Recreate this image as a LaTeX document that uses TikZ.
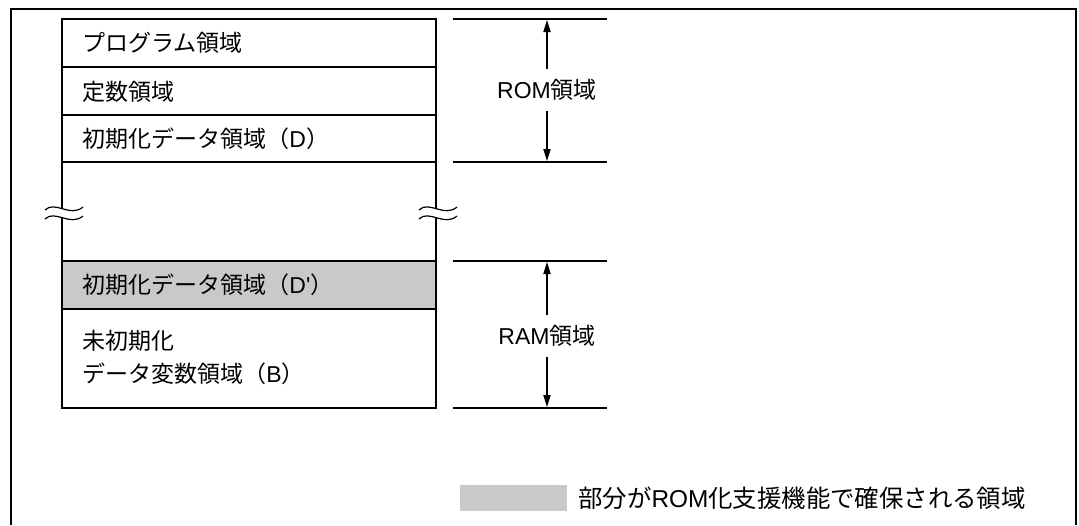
\documentclass[tikz,border=0pt]{standalone}
\usepackage{fontspec}
\setmainfont{Liberation Sans}[Ligatures=TeXOff]
\newfontfamily\jp{Noto Sans CJK JP}
\usetikzlibrary{arrows.meta}
\definecolor{romgray}{gray}{0.79}

\begin{document}
\begin{tikzpicture}[x=0.5pt, y=-0.5pt,
  area/.style={anchor=west, inner sep=0pt, align=left, font=\fontsize{11.5}{16.5}\selectfont},
  dimtext/.style={inner sep=5pt, font=\fontsize{11.5}{14}\selectfont},
  boxline/.style={line width=1.3pt},
  thinline/.style={line width=0.6pt},
  dimarrow/.style={line width=0.6pt, -{Triangle[length=6pt,width=3.6pt]}},
  wave/.style={line width=0.6pt}]
\useasboundingbox (0,0) rectangle (1079,525);

% frame
\draw[thinline] (11,525) -- (11,9) -- (1076,9) -- (1076,525);

% memory map
\fill[romgray] (62,261) rectangle (436,309);
\draw[thinline] (62,67) -- (436,67);
\draw[thinline] (62,115) -- (436,115);
\draw[thinline] (62,162) -- (436,162);
\draw[thinline] (62,261) -- (436,261);
\draw[thinline] (62,309) -- (436,309);
\draw[boxline] (62,209) -- (62,19) -- (436,19) -- (436,209);
\draw[boxline] (62,217) -- (62,408) -- (436,408) -- (436,217);

% break marks
\foreach \x in {64,438} {
  \draw[wave] (\x-19,210) .. controls (\x-9,200) and (\x+6,218) .. (\x+19,207);
  \draw[wave] (\x-19,219) .. controls (\x-9,209) and (\x+6,227) .. (\x+19,216);
}

\node (prog) at (82,43) [area] {\jp プログラム領域};
\node (const) at (82,92) [area] {\jp 定数領域};
\node (initd) at (82,139) [area] {{\jp 初期化データ領域（}D{\jp ）}};
\node (initdd) at (82,285) [area] {{\jp 初期化データ領域（}D'{\jp ）}};
\node (bss) at (82,357) [area] {{\jp 未初期化}\\{\jp データ変数領域（}B{\jp ）}};

% ROM / RAM
\draw[thinline] (453,19) -- (607,19);
\draw[thinline] (453,162) -- (607,162);
\draw[thinline] (453,261) -- (607,261);
\draw[thinline] (453,408) -- (607,408);
\coordinate (romtop) at (547,20);
\coordinate (rombot) at (547,161);
\coordinate (ramtop) at (547,262);
\coordinate (rambot) at (547,407);
\node (rom) at (547,90) [dimtext] {ROM{\jp 領域}};
\node (ram) at (547,336) [dimtext] {RAM{\jp 領域}};
\draw[dimarrow] (rom.north) -- (romtop);
\draw[dimarrow] (rom.south) -- (rombot);
\draw[dimarrow] (ram.north) -- (ramtop);
\draw[dimarrow] (ram.south) -- (rambot);

% legend
\fill[romgray] (460,485) rectangle (567,511);
\node (legend) at (578,498) [area, font=\fontsize{12.2}{14}\selectfont] {{\jp 部分が}ROM{\jp 化支援機能で確保される領域}};
\end{tikzpicture}
\end{document}
